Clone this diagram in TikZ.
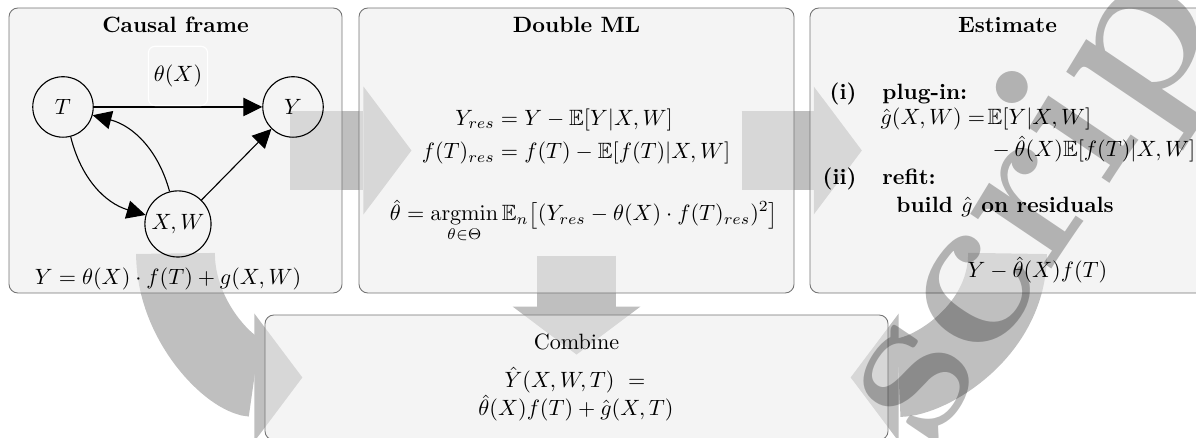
\documentclass[tikz,border=0pt]{standalone}
\usepackage{amsmath}
\usepackage{amssymb}
\usepackage{tikz}
\usetikzlibrary{arrows.meta, positioning, backgrounds}
\definecolor{cPanel}{RGB}{235,235,235}
\definecolor{cBlock}{RGB}{191,191,191}
\tikzset{
    panel/.style     ={rectangle, rounded corners=4pt, draw=black!55, fill=cPanel, fill opacity=0.55, inner sep=0pt},
    var/.style       ={circle, draw=black, line width=0.5pt, minimum size=0.96cm, inner sep=1pt},
    title/.style     ={anchor=base, font=\bfseries, inner sep=0pt},
    txt/.style       ={inner sep=0pt},
    lbl/.style       ={draw=white, rounded corners=3pt, minimum size=0.94cm, inner sep=1pt},
    edgearrow/.style ={-{Triangle[length=8.5pt, width=8.3pt]}, line width=0.5pt},
    blockarrow/.style={-{Triangle[length=21.7pt, width=57.8pt, line width=0pt]}, line width=35.6pt, draw=cBlock},
    watermark/.style ={anchor=base west, rotate=56, inner sep=0pt, text=black, text opacity=0.27, font=\fontsize{100}{100}\selectfont\bfseries},
}

\begin{document}
\begin{tikzpicture}
    \useasboundingbox (0,0) rectangle (18.984,6.952);
    % panels
    \node[panel, minimum width=5.286cm, minimum height=4.524cm] (causal) at (2.786,4.563) {};
    \node[panel, minimum width=6.905cm, minimum height=4.524cm] (dml) at (9.151,4.563) {};
    \node[panel, minimum width=6.270cm, minimum height=4.524cm] (est) at (15.992,4.563) {};
    \node[panel, minimum width=9.889cm, minimum height=1.984cm] (comb) at (9.151,0.960) {};

    % flow between panels
    \begin{scope}[on background layer]
        \draw[blockarrow] ([xshift=-0.83cm]causal.east) -- ([xshift=0.84cm]dml.west);
        \draw[blockarrow] ([xshift=-0.84cm]dml.east) -- ([xshift=0.83cm]est.west);
        \draw[blockarrow] ([yshift=0.6cm]dml.south) -- ([yshift=-0.635cm]comb.north);
        \draw[blockarrow] ([yshift=0.635cm]causal.south) to[out=-90, in=180] ([xshift=0.6cm]comb.west);
        \draw[blockarrow] ([yshift=0.635cm]est.south) to[out=-90, in=0] ([xshift=-0.6cm]comb.east);
    \end{scope}

    % causal frame
    \node[title] at ([yshift=-0.4cm]causal.north) {Causal frame};
    \node[var] (T) at (1.000,5.254) {$T$};
    \node[var] (Y) at (4.651,5.254) {$Y$};
    \node[var, minimum size=1.05cm] (XW) at (2.825,3.397) {$X,W$};
    \draw[edgearrow] (T) -- node[above=0.4pt, lbl] {$\theta(X)$} (Y);
    \draw[edgearrow] (T) to[bend right=30] (XW);
    \draw[edgearrow] (XW) to[bend right=30] (T);
    \draw[edgearrow] (XW) -- (Y);
    \node[txt, anchor=base] (model) at (2.667,2.429) {$Y=\theta(X)\cdot f(T)+g(X,W)$};

    % double ML
    \node[title] at ([yshift=-0.4cm]dml.north) {Double ML};
    \node[txt] (resid) at (9.143,4.778) {$\begin{aligned}
        Y_{res} &= Y-\mathbb{E}[Y|X,W]\\
        f(T)_{res} &= f(T)-\mathbb{E}[f(T)|X,W]
    \end{aligned}$};
    \node[txt, anchor=base] (loss) at (9.270,3.444) {$\displaystyle \hat{\theta}=\operatorname*{argmin}_{\theta\in\Theta}\mathbb{E}_n\big[(Y_{res}-\theta(X)\cdot f(T)_{res})^2\big]$};

    % estimate
    \node[title] at ([yshift=-0.4cm]est.north) {Estimate};
    \node[txt, anchor=base east, font=\bfseries] (i) at (13.603,5.365) {(i)};
    \node[txt, anchor=base west, font=\bfseries] (plug) at (14.000,5.365) {plug-in:};
    \node[txt, anchor=base west] (g1) at ([xshift=-0.03cm, yshift=-0.397cm]plug.base west) {$\hat{g}(X,W) =\!\mathbb{E}[Y|X,W]$};
    \node[txt, anchor=base west] (g2) at ([xshift=1.7cm, yshift=-0.508cm]g1.base west) {${}-\hat{\theta}(X)\mathbb{E}[f(T)|X,W]$};
    \node[txt, anchor=base east, font=\bfseries] (ii) at (13.603,4.016) {(ii)};
    \node[txt, anchor=base west, font=\bfseries] (refit) at (14.000,4.016) {refit:};
    \node[txt, anchor=base west, font=\bfseries] (build) at ([xshift=0.222cm, yshift=-0.445cm]refit.base west) {build $\hat{g}$ on residuals};
    \node[txt, anchor=base] (target) at (16.468,2.540) {$Y-\hat{\theta}(X)f(T)$};

    % combine
    \node[txt, anchor=base] at (9.151,1.397) {Combine};
    \node[txt, anchor=base] (yhat) at (9.127,0.794) {$\hat{Y}(X,W,T)\ =$};
    \node[txt, anchor=base] (sum) at (9.143,0.349) {$\hat{\theta}(X)f(T)+\hat{g}(X,T)$};

    \node[watermark] (wm) at (14.771,-0.181) {script};
\end{tikzpicture}
\end{document}
